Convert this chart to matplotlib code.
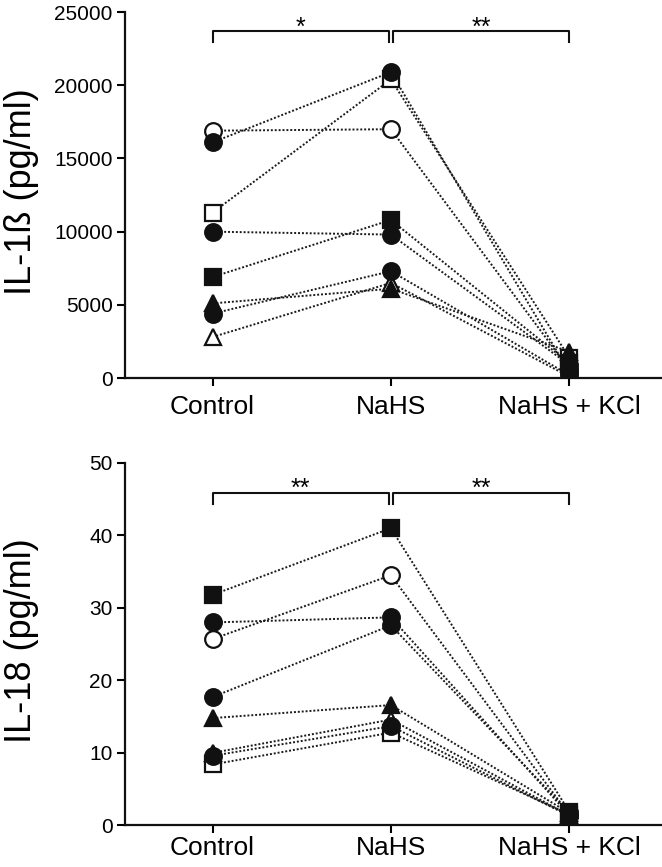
import matplotlib
matplotlib.use("Agg")
import matplotlib.pyplot as plt

plt.rcParams["font.family"] = ["Liberation Sans", "DejaVu Sans"]

groups = ["Control", "NaHS", "NaHS + KCl"]

# one entry per donor: (marker, filled?)
donor_markers = [
    ("o", False),
    ("o", True),
    ("s", False),
    ("o", True),
    ("s", True),
    ("^", True),
    ("o", True),
    ("^", False),
]

il1b_control = [16900, 16100, 11300, 10000, 6900, 5100, 4400, 2800]
il1b_nahs = [17000, 20900, 20400, 9800, 10800, 6100, 7300, 6500]
il1b_kcl = [600, 400, 1400, 900, 1000, 1800, 200, 100]

il18_control = [25.7, 28.0, 8.4, 17.7, 31.8, 14.8, 9.6, 10.0]
il18_nahs = [34.5, 28.7, 12.8, 27.6, 41.0, 16.6, 13.7, 14.6]
il18_kcl = [1.5, 1.4, 1.5, 1.8, 1.9, 1.7, 1.3, 1.4]

il1b_ticks = [0, 5000, 10000, 15000, 20000, 25000]
il18_ticks = [0, 10, 20, 30, 40, 50]


def draw_panel(ax, control, nahs, kcl, ticks, ylabel, bracket_y, drop, stars, xpad):
    x = [0, 1, 2]
    for i in range(len(donor_markers)):
        y = [control[i], nahs[i], kcl[i]]
        ax.plot(x, y, color="#1a1a1a", linestyle=(0, (1, 1)), linewidth=1.4, zorder=2)
    # open markers first, filled ones on top
    for i, (m, filled) in enumerate(donor_markers):
        y = [control[i], nahs[i], kcl[i]]
        ax.plot(x, y, linestyle="none", marker=m, markersize=12,
                markerfacecolor="#111111" if filled else "white",
                markeredgecolor="#111111", markeredgewidth=1.6,
                zorder=4 if filled else 3)

    ax.set_xlim(-0.49, 2.52)
    ax.set_ylim(0, ticks[-1])
    ax.set_yticks(ticks)
    ax.set_xticks(x)
    ax.set_xticklabels(groups, fontsize=19)
    ax.tick_params(axis="y", labelsize=15, length=6, width=1.5, pad=3)
    ax.tick_params(axis="x", length=6, width=1.5, pad=xpad)
    for side in ["top", "right"]:
        ax.spines[side].set_visible(False)
    for side in ["left", "bottom"]:
        ax.spines[side].set_linewidth(1.6)
        ax.spines[side].set_color("#111111")
    ax.set_ylabel(ylabel, fontsize=26)
    ax.yaxis.set_label_coords(-0.16, 0.51)

    # significance brackets
    for (x0, x1), s in zip([(0, 0.99), (1.01, 2)], stars):
        ax.plot([x0, x0, x1, x1], [bracket_y - drop, bracket_y, bracket_y, bracket_y - drop],
                color="#111111", linewidth=1.5, clip_on=False, zorder=5)
        ax.annotate(s, xy=((x0 + x1) / 2, bracket_y), xytext=(0, -6),
                    textcoords="offset points", ha="center", va="bottom", fontsize=18)


fig = plt.figure(figsize=(6.62, 8.67), dpi=100)
ax_top = fig.add_axes([0.189, 0.564, 0.811, 0.422])
ax_bot = fig.add_axes([0.189, 0.048, 0.811, 0.418])

draw_panel(ax_top, il1b_control, il1b_nahs, il1b_kcl, il1b_ticks,
           "IL-1ß (pg/ml)", 23700, 750, ["*", "**"], 6)
draw_panel(ax_bot, il18_control, il18_nahs, il18_kcl, il18_ticks,
           "IL-18 (pg/ml)", 45.9, 1.5, ["**", "**"], 2)

fig.savefig("out.png", dpi=100)
